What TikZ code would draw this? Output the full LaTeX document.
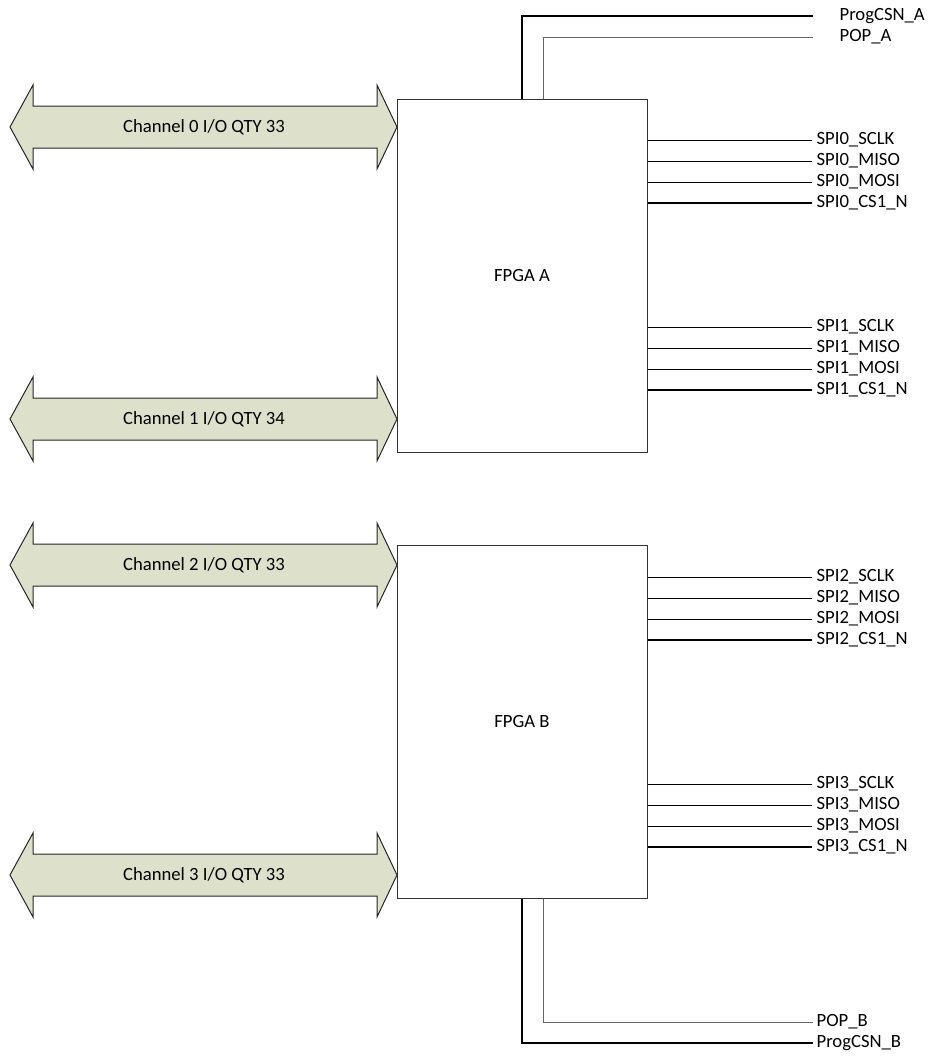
\documentclass[tikz,border=0pt]{standalone}
\usepackage{fontspec}
\setmainfont{Carlito}
\definecolor{chanfill}{RGB}{221,225,204}
\begin{document}
\begin{tikzpicture}[
  x=0.75pt,y=-0.75pt,
  fpga/.style={rectangle,draw=black!80,line width=0.75pt,
               minimum width=187.5pt,minimum height=264.75pt,
               font=\fontsize{14}{16}\selectfont},
  chan/.style={draw=black!85,line width=0.75pt,fill=chanfill},
  chantxt/.style={inner sep=0pt,font=\fontsize{14}{16}\selectfont},
  sig/.style={line width=0.75pt},
  bold/.style={line width=1.6pt},
  lbl/.style={anchor=west,inner sep=1pt,font=\fontsize{14}{16}\selectfont}
]
  \useasboundingbox (0,0) rectangle (930,1057);

  % I/O channels
  \foreach \y/\n/\q in {127/0/33, 419/1/34, 565/2/33, 875/3/33} {
    \draw[chan] (10,\y) -- (33,\y-42) -- (33,\y-21) -- (377,\y-21)
      -- (377,\y-42) -- (397,\y) -- (377,\y+42) -- (377,\y+21)
      -- (33,\y+21) -- (33,\y+42) -- cycle;
    \node[chantxt] (ch\n) at (204,\y) {Channel \n{} I/O QTY \q};
  }

  % FPGAs
  \node[fpga] (fpgaA) at (522,275.5) {FPGA A};
  \node[fpga] (fpgaB) at (522,721.5) {FPGA B};

  % programming lines
  \coordinate (progAend) at (813,16);
  \coordinate (popAend)  at (813,37);
  \node[lbl] (progA) at (838,16) {ProgCSN\_A};
  \node[lbl] (popA)  at (838,37) {POP\_A};
  \draw[bold] (fpgaA.north) |- (progAend);
  \draw[sig,black!60] ([xshift=15.75pt]fpgaA.north) |- (popAend);

  \coordinate (popBend)  at (813,1022);
  \coordinate (progBend) at (813,1043);
  \node[lbl] (popB)  at (815,1022) {POP\_B};
  \node[lbl] (progB) at (815,1043) {ProgCSN\_B};
  \draw[bold] (fpgaB.south) |- (progBend);
  \draw[sig,black!60] ([xshift=15.75pt]fpgaB.south) |- (popBend);

  % SPI buses
  \foreach \f/\y/\t/\w [count=\i] in {
      A/140/SPI0\_SCLK/sig, A/161/SPI0\_MISO/sig,
      A/182/SPI0\_MOSI/sig, A/203/SPI0\_CS1\_N/bold,
      A/327/SPI1\_SCLK/sig, A/348/SPI1\_MISO/sig,
      A/369/SPI1\_MOSI/sig, A/390/SPI1\_CS1\_N/bold,
      B/577/SPI2\_SCLK/sig, B/598/SPI2\_MISO/sig,
      B/619/SPI2\_MOSI/sig, B/640/SPI2\_CS1\_N/bold,
      B/784/SPI3\_SCLK/sig, B/805/SPI3\_MISO/sig,
      B/826/SPI3\_MOSI/sig, B/847/SPI3\_CS1\_N/bold} {
    \node[lbl] (spi\i) at (815,\y) {\t};
    \draw[\w] (spi\i.west -| fpga\f.east) -- ([xshift=-2pt]spi\i.west);
  }
\end{tikzpicture}
\end{document}
